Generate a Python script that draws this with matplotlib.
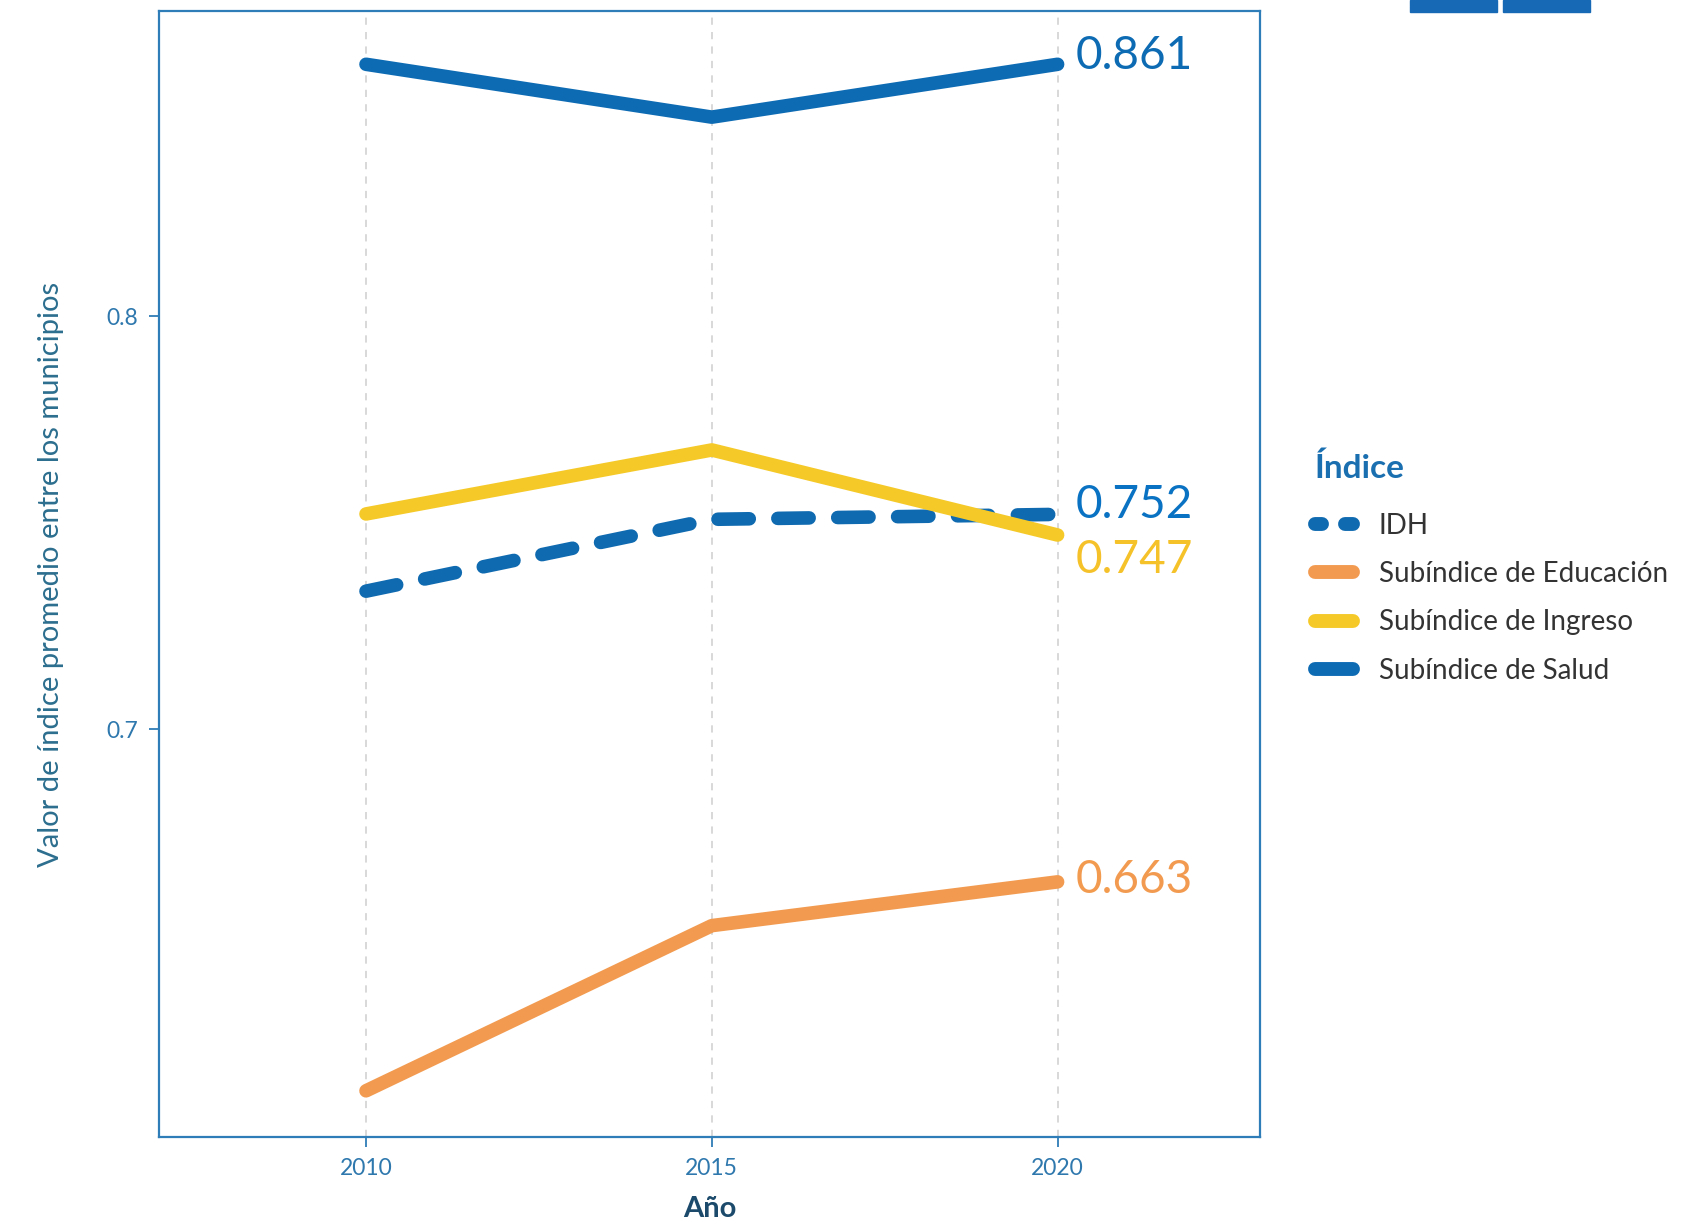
import numpy as np
import matplotlib.pyplot as plt
from matplotlib.patches import Rectangle
from matplotlib.lines import Line2D
from matplotlib.legend_handler import HandlerBase

plt.rcParams['font.family'] = ['Lato', 'DejaVu Sans']

years = [2010, 2015, 2020]
idh = [0.7334, 0.7508, 0.752]
educacion = [0.6124, 0.6524, 0.663]
ingreso = [0.7521, 0.7676, 0.747]
salud = [0.861, 0.8482, 0.861]

etiquetas = ["IDH", "Subíndice de Educación", "Subíndice de Ingreso", "Subíndice de Salud"]
colores = ["#0F6AB0", "#F29B50", "#F5C928", "#0D6BB4"]


class HandlerDosTrazos(HandlerBase):
    # clave de leyenda con dos trazos cortos redondeados
    def create_artists(self, legend, orig, xdescent, ydescent, width, height,
                       fontsize, trans):
        y = height / 2 - ydescent
        x0 = -xdescent
        seg = 0.19 * width
        kw = dict(color=orig.get_color(), lw=orig.get_linewidth(),
                  solid_capstyle="round", transform=trans)
        return [Line2D([x0, x0 + seg], [y, y], **kw),
                Line2D([x0 + width - seg, x0 + width], [y, y], **kw)]


fig = plt.figure(figsize=(17.03, 12.25), dpi=100)
ax = fig.add_axes([0.0931, 0.0718, 0.6469, 0.9192])

lw = 9.8
ax.plot(years, idh, color=colores[0], lw=lw, dashes=(2.3, 2.1),
        dash_capstyle="round", solid_capstyle="round", zorder=3)
ax.plot(years, educacion, color=colores[1], lw=lw, solid_capstyle="round", zorder=3)
ax.plot(years, ingreso, color=colores[2], lw=lw, solid_capstyle="round", zorder=3)
ax.plot(years, salud, color=colores[3], lw=lw, solid_capstyle="round", zorder=4)

# etiquetas finales
finales = [(salud[-1], colores[3], 6), (idh[-1], "#0A72C2", 7),
           (ingreso[-1], "#F5C22A", -18), (educacion[-1], colores[1], 1)]
for val, col, dy in finales:
    ax.annotate(f"{val:.3f}", xy=(years[-1], val), xytext=(13, dy),
                textcoords="offset points", va="center", ha="left",
                fontsize=33, color=col)

ax.set_xlim(2007.0, 2022.93)
ax.set_ylim(0.6012, 0.8739)
ax.set_xticks(years)
ax.set_yticks([0.7, 0.8])
ax.set_yticklabels(["0.7", "0.8"])

for x in years:
    ax.axvline(x, color="#D5D5D5", lw=1.3, ls=(0, (4, 4)), zorder=1)

spine_col = "#2F7DB8"
for s in ax.spines.values():
    s.set_color(spine_col)
    s.set_linewidth(1.6)
ax.tick_params(axis="both", colors=spine_col, labelcolor="#2E78AE",
               length=7, width=1.3, labelsize=16.5, pad=8)

ax.set_xlabel("Año", fontsize=21, fontweight="bold", color="#1B4A6B", labelpad=12)
ax.set_ylabel("Valor de índice promedio entre los municipios", fontsize=21,
              color="#2C6E8E", labelpad=30)

hw = 10
handles = [Line2D([], [], color=c, lw=hw, solid_capstyle="round") for c in colores]
leg = ax.legend(handles, etiquetas, title="Índice", loc="upper left",
                bbox_to_anchor=(0.7575, 0.651), bbox_transform=fig.transFigure,
                frameon=False, fontsize=20, handlelength=1.35, handletextpad=0.95,
                labelspacing=0.8, handler_map={handles[0]: HandlerDosTrazos()})
leg.get_title().set_fontsize(24)
leg.get_title().set_fontweight("bold")
leg.get_title().set_color("#1A6FB0")
leg._legend_box.align = "left"
leg._legend_box.sep = 21.5
for t in leg.get_texts():
    t.set_color("#333333")

# recortes de elementos superiores
for x0 in [1410, 1503]:
    fig.patches.append(Rectangle((x0 / 1703, 1 - 12 / 1225), 87 / 1703, 12 / 1225,
                                 transform=fig.transFigure, color="#1769B6"))

fig.savefig("out.png", dpi=100)
